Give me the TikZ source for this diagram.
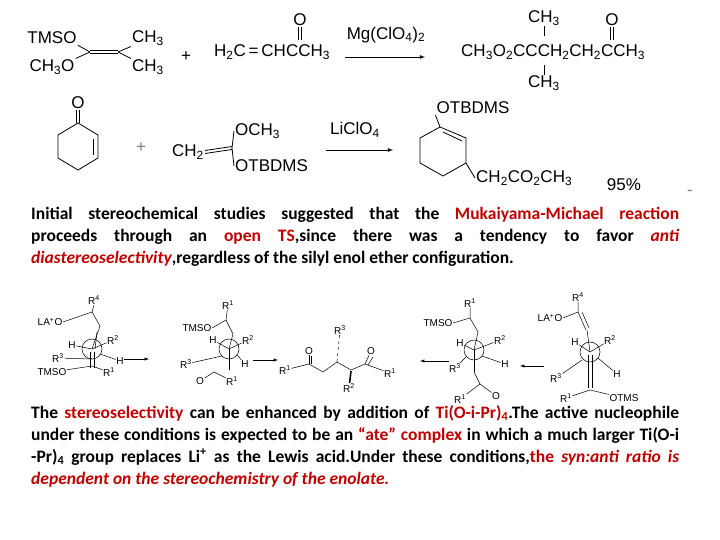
\documentclass[tikz,border=0pt]{standalone}
\usepackage{fontspec}
\setmainfont{Carlito}
\newfontfamily\chemf{Liberation Sans}
\definecolor{hl}{HTML}{C00000}
\newcommand{\hr}[1]{\textcolor{hl}{#1}}
\newcommand{\sbs}[1]{\textsubscript{#1}}
\newcommand{\sps}[1]{\textsuperscript{#1}}
\begin{document}
\begin{tikzpicture}[x=1pt,y=-1pt,
  ch/.style={font=\chemf\fontsize{17}{17}\selectfont,inner sep=1pt},
  sm/.style={font=\chemf\fontsize{10}{10}\selectfont,inner sep=0.5pt},
  bd/.style={line width=0.8pt},
  thin/.style={line width=0.5pt},
  rx/.style={-latex,line width=0.8pt},
  para/.style={anchor=north west,inner sep=0pt,text width=648pt,align=justify,font=\bfseries\fontsize{17.5}{22}\selectfont}]
\useasboundingbox[fill=white] (0,0) rectangle (720,540);
% ---- reaction 1
\node[ch] (tmso) at (52,38) {TMSO};
\node[ch] (ch3o) at (52,67) {CH\sbs{3}O};
\coordinate (c1) at (90,52); \coordinate (c2) at (118,52);
\draw[bd] (c1) -- (tmso.south east);
\draw[bd] (c1) -- (ch3o.north east);
\draw[bd] ([yshift=-1.6]c1) -- ([yshift=-1.6]c2) ([yshift=1.6]c1) -- ([yshift=1.6]c2);
\node[ch] (me1) at (148,38) {CH\sbs{3}};
\node[ch] (me2) at (148,67) {CH\sbs{3}};
\draw[bd] (c2) -- (me1.south west);
\draw[bd] (c2) -- (me2.north west);
\node[ch] (plus1) at (186,57) {+};
\node[ch,anchor=west] (mvk) at (213,52) {H\sbs{2}C\,=\,CHCCH\sbs{3}};
\node[ch] (o1) at (300,20) {O};
\draw[bd] ([xshift=-1.5]o1.south) -- ++(0,13) ([xshift=1.5]o1.south) -- ++(0,13);
\coordinate (a1s) at (345,57); \coordinate (a1e) at (425,57);
\draw[rx] (a1s) -- (a1e);
\node[ch] (mg) at (386,35) {Mg(ClO\sbs{4})\sbs{2}};
\node[ch,anchor=west] (prod1) at (460,52) {CH\sbs{3}O\sbs{2}CCCH\sbs{2}CH\sbs{2}CCH\sbs{3}};
\node[ch] (top) at (544,18) {CH\sbs{3}};
\node[ch] (bot) at (544,83) {CH\sbs{3}};
\draw[bd] (top.south) -- ++(0,10);
\draw[bd] (bot.north) -- ++(0,-10);
\node[ch] (o2) at (612,20) {O};
\draw[bd] ([xshift=-1.5]o2.south) -- ++(0,13) ([xshift=1.5]o2.south) -- ++(0,13);
% ---- reaction 2
\node[ch] (o3) at (78,103) {O};
\draw[bd] (78,123) -- (98,135) -- (98,158) -- (78,170) -- (58,158) -- (58,135) -- cycle;
\draw[bd] (93,139) -- (93,155);
\draw[bd] ([xshift=-1.5]o3.south) -- (76.5,123) ([xshift=1.5]o3.south) -- (79.5,123);
\node[ch,text=gray] (plus2) at (141,148) {+};
\node[ch] (ch2) at (188,152) {CH\sbs{2}};
\coordinate (kc) at (232,148);
\draw[bd] ([yshift=-1.5]ch2.east) -- ([yshift=-1.5]kc) ([yshift=1.5]ch2.east) -- ([yshift=1.5]kc);
\node[ch,anchor=west] (och3) at (234,131) {OCH\sbs{3}};
\node[ch,anchor=west] (otb) at (234,166) {OTBDMS};
\draw[bd] (kc) -- (och3.west) (kc) -- (otb.west);
\coordinate (a2s) at (326,150); \coordinate (a2e) at (393,150);
\draw[rx] (a2s) -- (a2e);
\node[ch] (li) at (355,130) {LiClO\sbs{4}};
\node[ch] (otb2) at (473,108) {OTBDMS};
\draw[bd] (440,127) -- (466,138) -- (466,163) -- (443,176) -- (420,163) -- (420,138) -- cycle;
\draw[bd] (443,132) -- (462,141);
\draw[bd] (440,127) -- (otb2.south west);
\node[ch,anchor=west] (side) at (475,178) {CH\sbs{2}CO\sbs{2}CH\sbs{3}};
\draw[bd] (466,163) -- (side.west);
\node[ch] (yld) at (624,185) {95\%};
\node[ch,text=gray] (dash) at (690,193) {-};
% ---- paragraph 1
\node[para] (p1) at (31,207) {Initial stereochemical studies suggested that the \hr{Mukaiyama-Michael reaction} \linebreak proceeds through an \hr{open TS},since there was a tendency to favor \hr{\itshape anti} \linebreak \hr{\itshape diastereoselectivity},regardless of the silyl enol ether configuration.};
% ---- Newman row
% structure 1
\node[sm] (s1r4) at (94,300) {R\sps{4}};
\node[sm] (s1la) at (50,322) {LA\sps{+}O};
\coordinate (s1a) at (92,312); \coordinate (s1b) at (100,326);
\draw[thin] (s1la.east) -- (s1a) -- (s1r4.south);
\draw[thin] (s1a) -- (s1b);
\draw[thin] (s1b) -- (92,349);
\draw[thin] (95,349) -- (97,332);
\draw[thin] (92,349) circle (10);
\node[sm] (s1h) at (72,345) {H};
\node[sm] (s1r2) at (113,340) {R\sps{2}};
\node[sm] (s1r3) at (58,358) {R\sps{3}};
\node[sm] (s1h2) at (120,361) {H};
\draw[thin] (92,349) -- (s1h) (92,349) -- (s1r2) (92,359) -- (s1r3) (100,354) -- (s1h2);
\draw[thin] (90,352) -- (90,368) (94,352) -- (94,368);
\node[sm] (s1tm) at (52,372) {TMSO};
\node[sm] (s1r1) at (109,372) {R\sps{1}};
\draw[thin] (s1tm) -- (92,366) -- (s1r1);
\draw[-latex,thin] (124,359) -- (149,359);
% structure 2
\node[sm] (s2r1) at (228,305) {R\sps{1}};
\node[sm] (s2tm) at (197,328) {TMSO};
\coordinate (s2a) at (226,320);
\draw[thin] (s2r1) -- (s2a) -- (s2tm.east);
\draw[thin] (s2a) -- (233,334) -- (229,349);
\draw[thin] (229,349) circle (10);
\node[sm] (s2h) at (213,340) {H};
\node[sm] (s2r2) at (248,340) {R\sps{2}};
\node[sm] (s2r3) at (186,364) {R\sps{3}};
\node[sm] (s2h2) at (245,364) {H};
\draw[thin] (229,349) -- (s2h) (229,349) -- (s2r2) (222,356) -- (s2r3) (237,355) -- (s2h2);
\draw[thin] (229,349) -- (229,370);
\node[sm] (s2o) at (200,381) {O};
\node[sm] (s2r1b) at (232,381) {R\sps{1}};
\draw[thin] (s2o) -- (214,372) -- (s2r1b);
\draw[-latex,thin] (253,360) -- (278,360);
% central product
\node[sm] (co1) at (309,351) {O};
\node[sm] (co2) at (371,351) {O};
\node[sm] (cr3) at (340,330) {R\sps{3}};
\node[sm] (cr1a) at (285,370) {R\sps{1}};
\node[sm] (cr1b) at (390,373) {R\sps{1}};
\node[sm] (cr2) at (349,388) {R\sps{2}};
\draw[thin] (cr1a) -- (309,364) -- (323,372) -- (337,362) -- (351,370) -- (365,364) -- (cr1b);
\draw[thin] (309,364) -- (co1) (311,364) -- (311,356);
\draw[thin] (365,364) -- (co2) (368,365) -- (373,357);
\draw[thin,dashed] (337,362) -- (cr3);
\draw[line width=1.6pt] (351,371) -- (cr2);
\draw[-latex,thin] (449,361) -- (420,361);
% structure 4
\node[sm] (s4r1) at (470,303) {R\sps{1}};
\node[sm] (s4tm) at (438,323) {TMSO};
\coordinate (s4a) at (470,318);
\draw[thin] (s4r1) -- (s4a) -- (s4tm.east);
\draw[thin] (s4a) -- (478,332) -- (474,350);
\draw[thin] (474,350) circle (10);
\node[sm] (s4h) at (460,343) {H};
\node[sm] (s4r2) at (500,340) {R\sps{2}};
\node[sm] (s4r3) at (455,368) {R\sps{3}};
\node[sm] (s4h2) at (505,364) {H};
\draw[thin] (474,350) -- (s4h) (474,350) -- (s4r2) (466,357) -- (s4r3) (482,356) -- (s4h2);
\draw[thin] (474,350) -- (474,372);
\node[sm] (s4r1b) at (460,399) {R\sps{1}};
\node[sm] (s4o) at (496,396) {O};
\draw[thin] (s4r1b) -- (480,384) -- (s4o);
\draw[thin] (474,372) -- (480,384);
\draw[-latex,thin] (544,366) -- (520,366);
% structure 5
\node[sm] (s5r4) at (578,297) {R\sps{4}};
\node[sm] (s5la) at (550,318) {LA\sps{+}O};
\coordinate (s5a) at (578,312);
\draw[thin] (s5r4) -- (s5a) -- (s5la.east);
\draw[thin] (s5a) -- (586,330) (582,312) -- (589,328);
\draw[thin] (587,330) -- (590,352);
\draw[thin] (590,352) circle (10);
\node[sm] (s5h) at (575,342) {H};
\node[sm] (s5r2) at (610,340) {R\sps{2}};
\node[sm] (s5r3) at (556,378) {R\sps{3}};
\node[sm] (s5h2) at (617,374) {H};
\draw[thin] (590,352) -- (s5h) (590,352) -- (s5r2) (582,360) -- (s5r3) (598,358) -- (s5h2);
\draw[thin] (588,355) -- (588,388) (592,355) -- (592,388);
\node[sm] (s5r1) at (566,398) {R\sps{1}};
\node[sm] (s5ot) at (624,398) {OTMS};
\draw[thin] (s5r1) -- (590,390) -- (s5ot);
% ---- paragraph 2
\node[para] (p2) at (31,405) {The \hr{stereoselectivity} can be enhanced by addition of \hr{Ti(O-i-Pr)\textsubscript{4}}.The active nucleophile \linebreak under these conditions is expected to be an \hr{“ate” complex} in which a much larger Ti(O-i \linebreak -Pr)\textsubscript{4} group replaces Li\textsuperscript{+} as the Lewis acid.Under these conditions,\hr{the \itshape syn:anti ratio is} \linebreak \hr{\itshape dependent on the stereochemistry of the enolate.}};
\end{tikzpicture}
\end{document}
